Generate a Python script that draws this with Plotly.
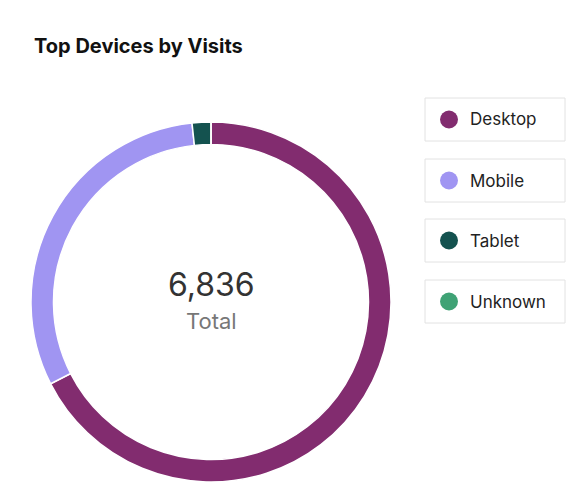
import plotly.graph_objects as go

labels = ["Desktop", "Mobile", "Tablet", "Unknown"]
values = [4614, 2107, 115, 0]
colors = ["#822C6F", "#A095F2", "#14524F", "#3FA275"]
total_label = "6,836"

W, H = 572, 486
OFF = 8
def px(x): return (x - OFF) / W
def py(y): return 1 - (y - OFF) / H

fig = go.Figure(go.Pie(
    labels=labels, values=values, hole=0.875, sort=False, direction="clockwise",
    rotation=0, marker=dict(colors=colors, line=dict(color="white", width=1.5)),
    textinfo="none", hoverinfo="label+value", showlegend=False,
    domain=dict(x=[px(31), px(391)], y=[py(482), py(122)]),
))

shapes, ann = [], []
tops = [98, 159, 219, 280]
for lab, col, t in zip(labels, colors, tops):
    shapes.append(dict(type="rect", xref="paper", yref="paper", x0=px(425), x1=px(565),
                       y0=py(t + 43), y1=py(t), line=dict(color="#E2E2E2", width=1), fillcolor="white"))
    cy = t + 21.5
    shapes.append(dict(type="circle", xref="paper", yref="paper", x0=px(440), x1=px(458),
                       y0=py(cy + 9), y1=py(cy - 9), line=dict(width=0), fillcolor=col))
    ann.append(dict(text=lab, xref="paper", yref="paper", x=px(468), y=py(cy), xanchor="left",
                    yanchor="middle", showarrow=False, font=dict(size=17, color="#222")))

ann.append(dict(text="<b>Top Devices by Visits</b>", xref="paper", yref="paper", x=px(32), y=py(46),
                xanchor="left", yanchor="middle", showarrow=False, font=dict(size=20, color="#111")))
ann.append(dict(text=total_label, xref="paper", yref="paper", x=px(211), y=py(284),
                xanchor="center", yanchor="middle", showarrow=False, font=dict(size=32, color="#333")))
ann.append(dict(text="Total", xref="paper", yref="paper", x=px(211), y=py(321),
                xanchor="center", yanchor="middle", showarrow=False, font=dict(size=22, color="#777")))

fig.update_layout(width=W, height=H, margin=dict(l=0, r=0, t=0, b=0),
                  paper_bgcolor="white", plot_bgcolor="white",
                  font=dict(family="Inter, Noto Sans, sans-serif"),
                  shapes=shapes, annotations=ann)
fig.write_html("out.html")
